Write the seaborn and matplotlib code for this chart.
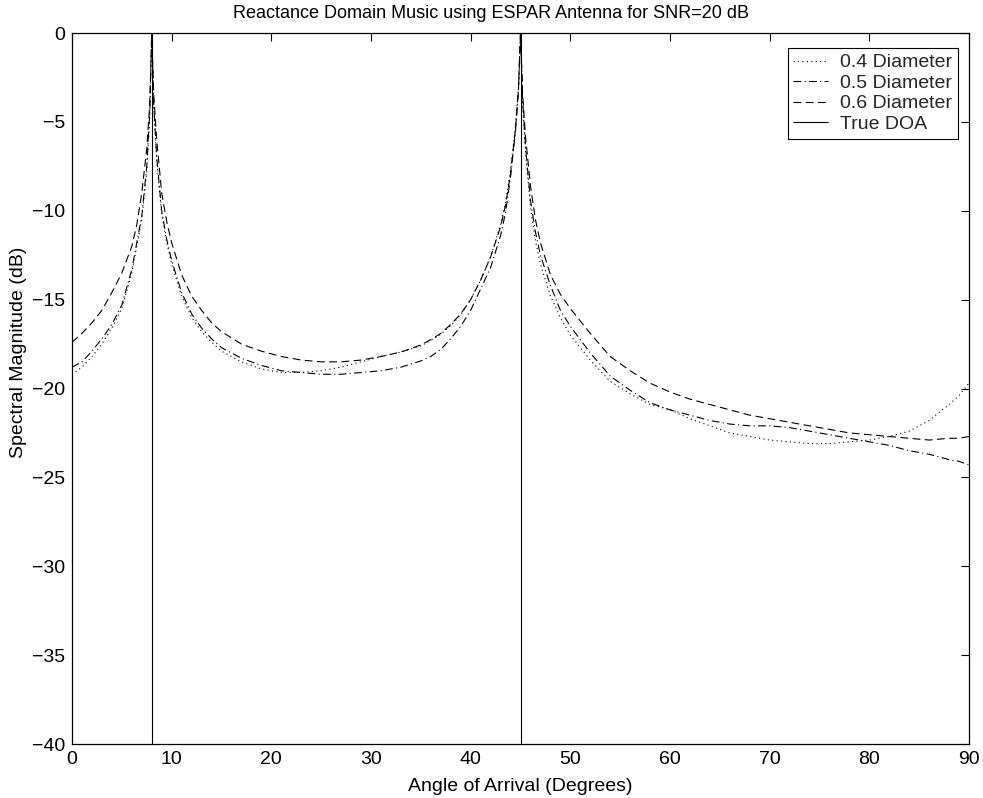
import matplotlib
matplotlib.use("Agg")
import matplotlib.pyplot as plt
import seaborn as sns
import numpy as np
import pandas as pd

# ---------------- data ----------------
angles = [0, 1, 2, 3, 4, 5, 6, 6.5, 7, 7.5, 7.8, 8, 8.2, 8.5, 9, 9.5, 10, 11, 12, 13, 14, 15,
          17, 19, 21, 23, 25, 27, 29, 31, 33, 35, 36, 37, 38, 39, 40, 41, 42, 43, 43.5, 44, 44.5, 44.8,
          45, 45.2, 45.5, 46, 46.5, 47, 48, 49, 50, 52, 54, 56, 58, 60, 62, 64, 66, 68, 70, 72,
          74, 76, 78, 80, 82, 84, 86, 88, 89, 90]

d04 = [-19.2, -18.8, -18.2, -17.5, -16.6, -15.5, -13.5, -12.0, -10.5, -7.8, -4.8, 0.0, -4.2, -7.2,
       -10.2, -11.8, -13.0, -14.8, -16.0, -16.8, -17.4, -17.9,
       -18.5, -18.9, -19.1, -19.1, -19.0, -18.8, -18.5, -18.2, -17.95, -17.6, -17.3, -16.95, -16.45,
       -15.85, -15.0, -13.9, -12.6, -10.8, -9.5, -7.7, -5.2, -3.0,
       0.0, -3.8, -6.7, -9.8, -11.7, -13.0, -14.8, -16.0, -17.0, -18.4, -19.6, -20.3, -20.9, -21.2,
       -21.7, -22.1, -22.5, -22.7, -22.9, -23.0,
       -23.1, -23.1, -23.0, -22.9, -22.7, -22.4, -21.8, -20.9, -20.4, -19.7]

d05 = [-18.8, -18.5, -17.9, -17.2, -16.4, -15.3, -13.3, -11.8, -10.3, -7.5, -4.5, 0.0, -4.0, -7.0,
       -10.0, -11.6, -12.8, -14.6, -15.8, -16.6, -17.2, -17.7,
       -18.3, -18.7, -19.0, -19.1, -19.2, -19.2, -19.1, -19.0, -18.8, -18.45, -18.2, -17.8, -17.2,
       -16.5, -15.6, -14.4, -13.2, -11.4, -10.1, -8.1, -5.5, -3.2,
       0.0, -3.6, -6.4, -9.4, -11.2, -12.5, -14.2, -15.6, -16.5, -18.0, -19.3, -20.1, -20.8, -21.2,
       -21.5, -21.8, -22.0, -22.1, -22.1, -22.2,
       -22.4, -22.6, -22.8, -23.0, -23.2, -23.5, -23.7, -24.0, -24.1, -24.3]

d06 = [-17.4, -16.9, -16.3, -15.6, -14.6, -13.5, -12.0, -10.8, -9.0, -6.5, -4.0, 0.0, -3.5, -6.0,
       -9.0, -10.6, -11.8, -13.6, -14.8, -15.6, -16.3, -16.8,
       -17.5, -17.9, -18.2, -18.4, -18.5, -18.5, -18.4, -18.2, -17.95, -17.55, -17.25, -16.9, -16.4,
       -15.8, -15.0, -13.9, -12.6, -10.9, -9.7, -7.9, -5.4, -3.1,
       0.0, -3.3, -5.8, -8.6, -10.5, -11.8, -13.6, -14.7, -15.5, -16.9, -18.2, -19.0, -19.7, -20.2,
       -20.6, -20.9, -21.2, -21.5, -21.7, -21.9,
       -22.1, -22.3, -22.5, -22.6, -22.7, -22.8, -22.9, -22.8, -22.8, -22.7]

true_doa = [8, 45]

series_labels = ["0.4 Diameter", "0.5 Diameter", "0.6 Diameter"]
title = "Reactance Domain Music using ESPAR Antenna for SNR=20 dB"
xlabel = "Angle of Arrival (Degrees)"
ylabel = "Spectral Magnitude (dB)"
xticks = list(range(0, 91, 10))
yticks = list(range(-40, 1, 5))

# ---------------- style ----------------
sns.set_theme(style="white")
plt.rcParams["font.family"] = ["Liberation Sans", "DejaVu Sans"]
plt.rcParams["axes.unicode_minus"] = True

fig = plt.figure(figsize=(9.83, 7.98), dpi=100)
ax = fig.add_axes([72 / 983, 54 / 798, (969 - 72) / 983, (744 - 33) / 798])

df = pd.DataFrame({"angle": angles, "d04": d04, "d05": d05, "d06": d06})

styles = [(0, (1, 3)), (0, (7, 3, 1, 3)), (0, (7, 4))]
for col, lab, ls in zip(["d04", "d05", "d06"], series_labels, styles):
    sns.lineplot(data=df, x="angle", y=col, ax=ax, color="black", linewidth=0.8,
                 linestyle=ls, label=lab, sort=False, estimator=None)

ax.vlines(true_doa, -40, 0, colors="black", linewidth=0.8, label="True DOA")

ax.set_xlim(0, 90)
ax.set_ylim(-40, 0)
ax.set_xticks(xticks)
ax.set_yticks(yticks)
ax.tick_params(direction="in", length=6, width=0.8, top=True, right=True,
               labelsize=14, colors="black", pad=5)
for s in ax.spines.values():
    s.set_color("black")
    s.set_linewidth(0.9)

ax.set_title(title, fontsize=13, pad=11, color="black", x=(491 - 72) / 897)
ax.set_xlabel(xlabel, fontsize=14, labelpad=7, color="black")
ax.set_ylabel(ylabel, fontsize=14, color="black")
ax.yaxis.set_label_coords(-0.050, (744 - 352) / 711)

leg = ax.legend(loc="upper right", bbox_to_anchor=(958 / 983, 1 - 48 / 798),
                bbox_transform=fig.transFigure, borderaxespad=0, fontsize=14,
                frameon=True, fancybox=False, edgecolor="black", framealpha=1,
                handlelength=1.8, handletextpad=0.6, labelspacing=0.15, borderpad=0.3)
leg.get_frame().set_linewidth(0.8)

fig.savefig("out.png", dpi=100, facecolor="white")
